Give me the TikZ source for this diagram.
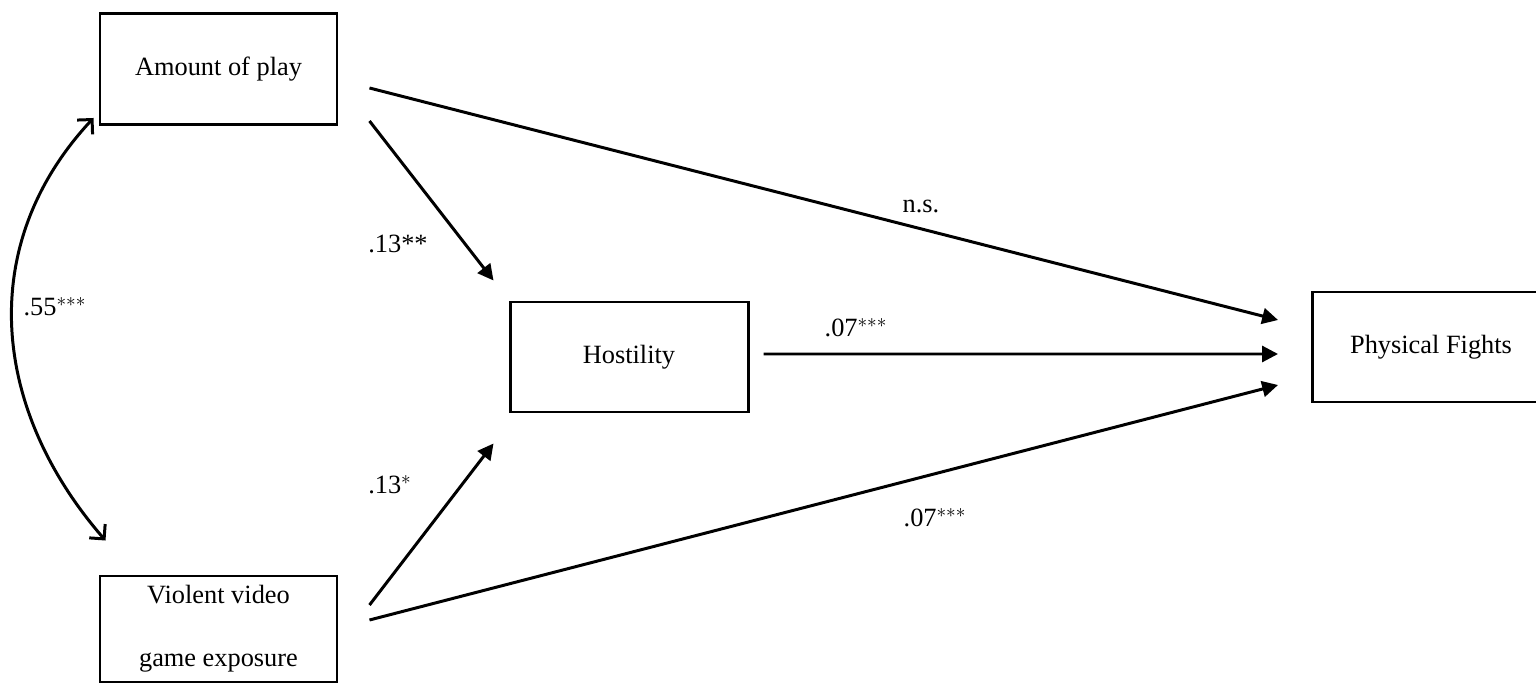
\documentclass[tikz,border=0pt]{standalone}
\usepackage{fontspec}
\setmainfont{Liberation Serif}
\usetikzlibrary{arrows.meta}

\tikzset{
  VariableBox/.style={draw, line width=1.7pt, minimum width=4.74cm, minimum height=2.22cm,
    align=center, font=\fontsize{15}{18}\selectfont},
  PathArrow/.style={line width=1.7pt, -{Triangle[length=9pt,width=9pt]}},
  CovArrow/.style={line width=1.7pt, {Straight Barb[length=6pt,width=12pt]}-{Straight Barb[length=6pt,width=12pt]}},
  Coefficient/.style={font=\fontsize{15}{18}\selectfont}
}

\begin{document}
\begin{tikzpicture}

\path[use as bounding box, clip] (0,0) rectangle (30.72,-13.66);

% Variables del modelo
\node[VariableBox] (play) at (4.37, -1.38) {Amount of play};
\node[VariableBox, minimum height=2.12cm] (violent) at (4.37, -12.58) {Violent video\\[18pt] game exposure};
\node[VariableBox, minimum width=4.76cm, minimum height=2.2cm] (hostility) at (12.58, -7.14) {Hostility};
\node[VariableBox, minimum height=2.2cm] (fights) at (28.62, -6.94) {Physical Fights};

% Correlacion entre los predictores
\draw[CovArrow] ([shift={(-0.1,0.16)}]play.south west)
  to[out=227, in=131, looseness=1.05] ([shift={(0.14,0.68)}]violent.north west);
\node[Coefficient] (r) at (1.1, -6.14) {.55$^{***}$};

% Efectos directos
\draw[PathArrow] ([shift={(0.62,-1.04)}]play.east) -- ([shift={(-0.3,0.4)}]hostility.north west);
\draw[PathArrow] ([shift={(0.62,0.48)}]violent.east) -- ([shift={(-0.3,-0.6)}]hostility.south west);
\draw[PathArrow] ([shift={(0.62,-0.38)}]play.east) -- ([shift={(-0.66,0.54)}]fights.west);
\draw[PathArrow] ([shift={(0.28,0.06)}]hostility.east) -- ([shift={(-0.66,-0.14)}]fights.west);
\draw[PathArrow] ([shift={(0.62,0.18)}]violent.east) -- ([shift={(-0.66,-0.76)}]fights.west);

\node[Coefficient] (b1) at (7.96, -4.88) {.13**};
\node[Coefficient] (b2) at (7.8, -9.7) {.13$^{*}$};
\node[Coefficient] (b3) at (18.42, -4.12) {n.s.};
\node[Coefficient] (b4) at (17.12, -6.56) {.07$^{***}$};
\node[Coefficient] (b5) at (18.7, -10.36) {.07$^{***}$};

\end{tikzpicture}
\end{document}
